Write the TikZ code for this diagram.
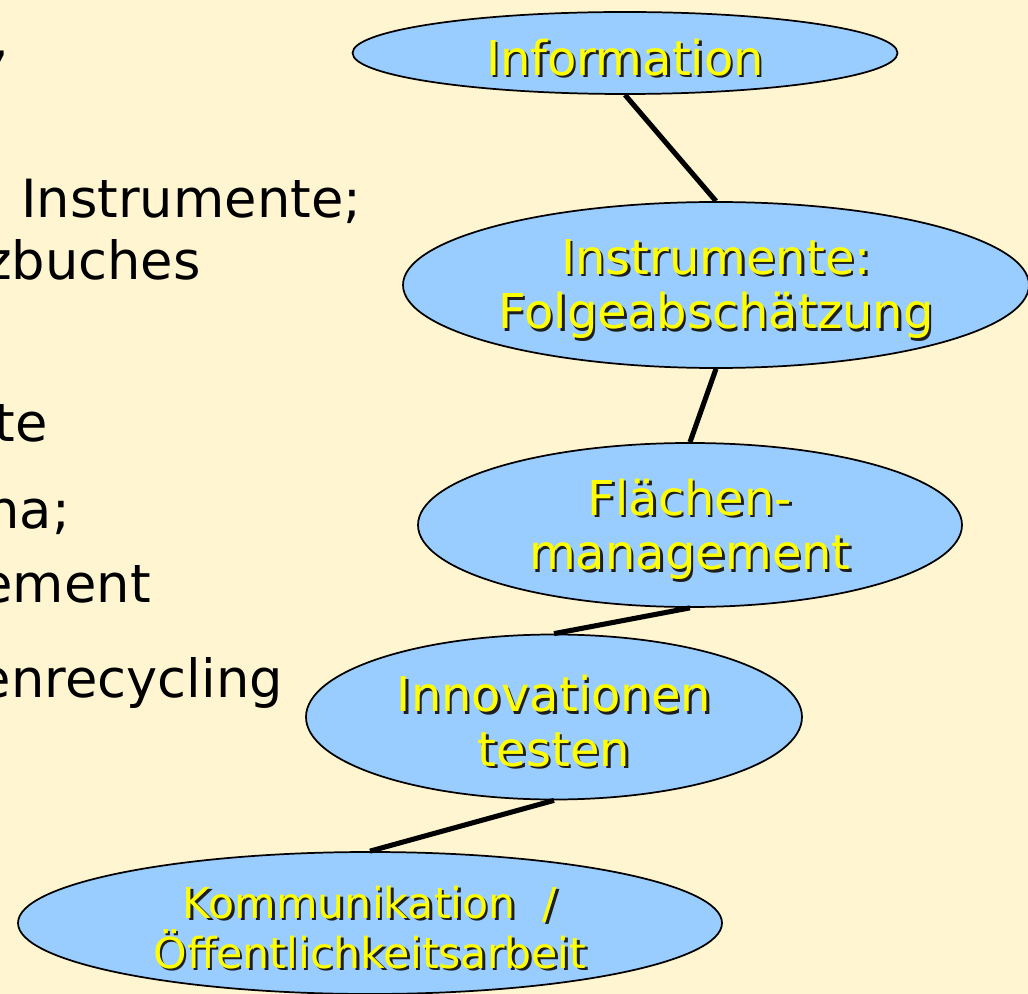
\documentclass[tikz,border=0pt]{standalone}
\usepackage{fontspec}
\setmainfont{DejaVu Sans}
\usetikzlibrary{shapes.geometric}

\definecolor{bgyellow}{RGB}{255,245,208}
\definecolor{bubbleblue}{RGB}{153,204,255}
\definecolor{labelyellow}{RGB}{255,255,0}
\definecolor{shadowgray}{RGB}{30,30,30}

% yellow label text with a dark drop shadow, set a little lower in the ellipse
\newcommand{\shd}[1]{\raisebox{-4pt}[\height][\depth]{\makebox[0pt][l]{\hspace{1.8pt}\raisebox{-1.8pt}{\textcolor{shadowgray}{#1}}}#1}}

\tikzset{
    bubble/.style={ellipse, draw=black, line width=1.3pt, fill=bubbleblue,
        text=labelyellow, inner sep=0pt, align=center,
        font=\fontsize{36}{41}\selectfont},
    link/.style={line width=3.8pt, black},
    sidetext/.style={inner sep=0pt, font=\fontsize{39.5}{47}\selectfont}
}

\begin{document}
\begin{tikzpicture}[x=0.75pt, y=-0.75pt]

    % Background of the slide
    \fill[bgyellow] (0,0) rectangle (1028,994);
    \useasboundingbox (0,0) rectangle (1028,994);

    % Cut-off text of the bullet list on the left
    \node[sidetext, anchor=base east] (comma) at (10,58) {,};
    \node[sidetext, anchor=base west] (instr) at (21,218) {Instrumente;};
    \node[sidetext, anchor=base east] (zbuch) at (201,280) {zbuches};
    \node[sidetext, anchor=base east] (te) at (48,442) {te};
    \node[sidetext, anchor=base east] (na) at (70,528) {na;};
    \node[sidetext, anchor=base east] (ement) at (151,602) {ement};
    \node[sidetext, anchor=base east] (recyc) at (283,697) {enrecycling};

    % The chain of ellipses
    \node[bubble, minimum width=408.75pt, minimum height=61.5pt] (info) at (625,53)
        {\shd{Information}};
    \node[bubble, minimum width=469.5pt, minimum height=124.5pt] (folge) at (716,285)
        {\shd{Instrumente:}\\\shd{Folgeabschätzung}};
    \node[bubble, minimum width=408pt, minimum height=123pt] (flaeche) at (690,525)
        {\shd{Flächen-}\\\shd{management}};
    \node[bubble, minimum width=372pt, minimum height=123.75pt] (innov) at (554,717)
        {\shd{Innovationen}\\\shd{testen}};
    \node[bubble, minimum width=528pt, minimum height=106.5pt,
        font=\fontsize{32}{37.5}\selectfont] (komm) at (370,923)
        {\shd{Kommunikation\ \ /}\\\shd{Öffentlichkeitsarbeit}};

    % Connecting lines
    \draw[link] (info.south) -- (folge.north);
    \draw[link] (folge.south) -- (flaeche.north);
    \draw[link] (flaeche.south) -- (innov.north);
    \draw[link] (innov.south) -- (komm.north);

\end{tikzpicture}
\end{document}
